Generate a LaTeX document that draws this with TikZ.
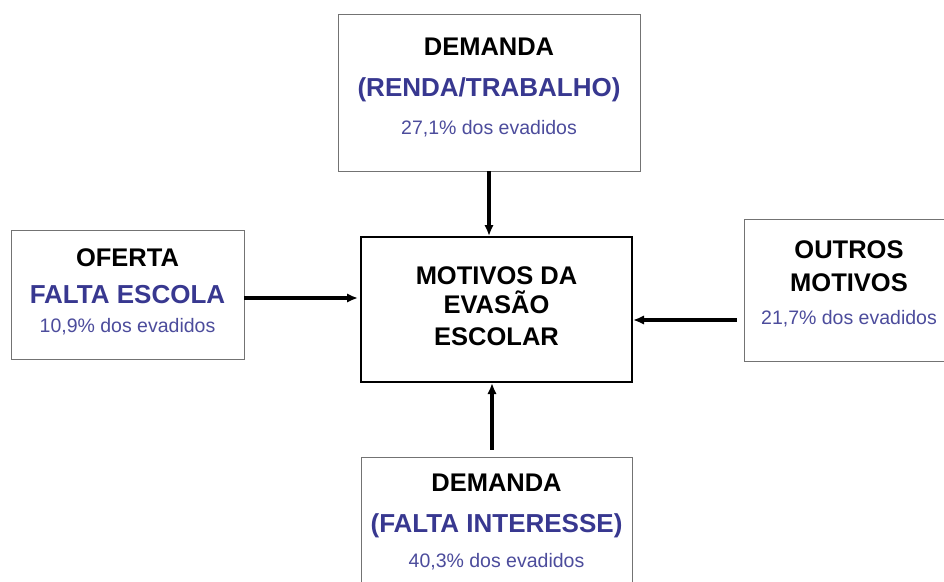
\documentclass[tikz,border=0pt]{standalone}
\usepackage{fontspec}
\setmainfont{Liberation Sans}
\usetikzlibrary{arrows.meta}
\definecolor{azul}{RGB}{56,56,144}
\definecolor{azulclaro}{RGB}{76,76,156}
\newcommand{\tit}[1]{{\fontsize{25.5}{24}\selectfont\bfseries #1}}
\newcommand{\subt}[1]{{\fontsize{26}{24}\selectfont\bfseries\color{azul}#1}}
\newcommand{\pct}[1]{{\fontsize{19.5}{24}\selectfont\color{azulclaro}#1}}
\begin{document}
\begin{tikzpicture}[x=1pt,y=-1pt,
  caixa/.style={draw=black!55,line width=0.9pt,align=center,inner sep=0pt,font=\fontsize{24}{24}\selectfont},
  central/.style={draw=black,line width=2pt,align=center,inner sep=0pt,font=\fontsize{24}{24}\selectfont},
  seta/.style={line width=3.2pt,-{Latex[length=11pt,width=9.5pt]}}]
\useasboundingbox[fill=white] (0,0) rectangle (944,581);
\node[caixa,minimum width=302pt,minimum height=157pt,text depth=12pt](renda) at (489,92.5){\tit{DEMANDA}\\[17pt]\subt{(RENDA/TRABALHO)}\\[14pt]\pct{27,1\% dos evadidos}};
\node[central,minimum width=271pt,minimum height=145pt,text depth=6pt](motivo) at (496.5,309.5){\tit{MOTIVOS DA}\\[5pt]\tit{EVASÃO}\\[8pt]\tit{ESCOLAR}};
\node[caixa,minimum width=233pt,minimum height=129pt,text depth=8pt](oferta) at (127.5,294.5){\tit{OFERTA}\\[13pt]\subt{FALTA ESCOLA}\\[5pt]\pct{10,9\% dos evadidos}};
\node[caixa,minimum width=210pt,minimum height=142pt,text depth=14pt](outros) at (849,290){\tit{OUTROS}\\[9pt]\tit{MOTIVOS}\\[9pt]\pct{21,7\% dos evadidos}};
\node[caixa,minimum width=271pt,minimum height=143pt,text depth=16pt](interesse) at (496.5,528.5){\tit{DEMANDA}\\[17pt]\subt{(FALTA INTERESSE)}\\[11pt]\pct{40,3\% dos evadidos}};
\draw[seta](renda.south)--(renda.south |- motivo.north);
\draw[seta,shorten >=2pt]([yshift=-3.5pt]oferta.east)--([yshift=-3.5pt]oferta.east -| motivo.west);
\draw[seta,shorten <=7pt]([yshift=-30pt]outros.west)--([yshift=-30pt]outros.west -| motivo.east);
\draw[seta,shorten <=7pt]([xshift=-4.5pt]interesse.north)--([xshift=-4.5pt]interesse.north |- motivo.south);
\end{tikzpicture}
\end{document}
